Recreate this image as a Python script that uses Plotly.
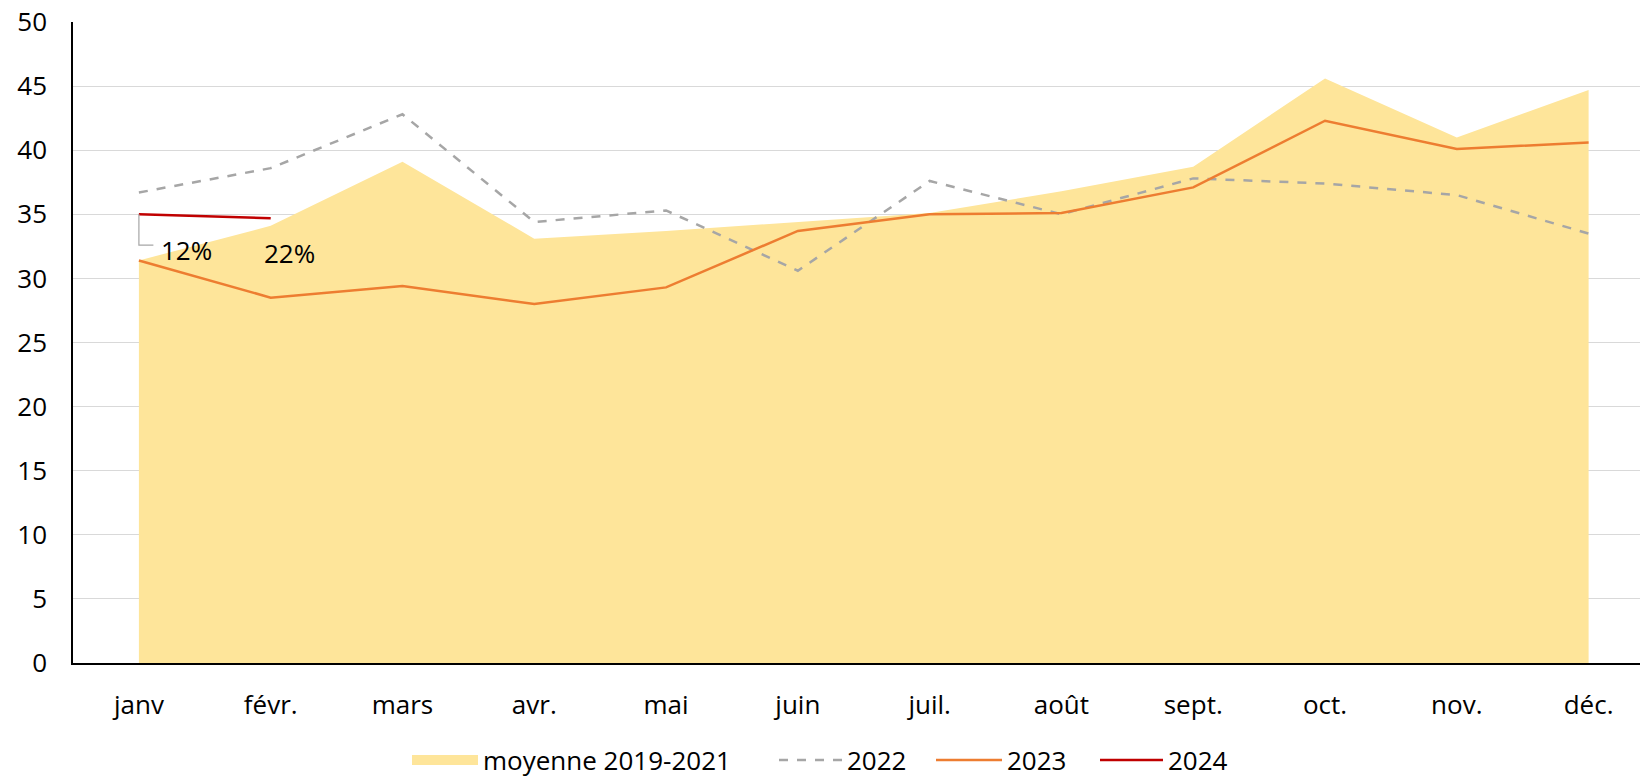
import plotly.graph_objects as go

months = ["janv", "févr.", "mars", "avr.", "mai", "juin", "juil.", "août", "sept.", "oct.", "nov.", "déc."]
moyenne_2019_2021 = [31.4, 34.1, 39.1, 33.1, 33.7, 34.4, 35.1, 36.8, 38.7, 45.6, 41.0, 44.7]
y2022 = [36.7, 38.6, 42.8, 34.4, 35.3, 30.6, 37.6, 35.0, 37.8, 37.4, 36.5, 33.5]
y2023 = [31.4, 28.5, 29.4, 28.0, 29.3, 33.7, 35.0, 35.1, 37.1, 42.3, 40.1, 40.6]
y2024 = [35.0, 34.7]
labels_2024 = ["12%", "22%"]
y_ticks = [0, 5, 10, 15, 20, 25, 30, 35, 40, 45, 50]

FONT = "Open Sans"
FS = 26
W, H = 1643, 780
xi = list(range(len(months)))

fig = go.Figure()
fig.add_trace(go.Scatter(x=xi, y=moyenne_2019_2021, mode="lines", fill="tozeroy",
                         fillcolor="#fee59a", line=dict(width=0, color="#fee59a"),
                         name="moyenne 2019-2021", showlegend=False, hoverinfo="skip"))
# legend swatch for the area
fig.add_trace(go.Scatter(x=[None], y=[None], mode="lines",
                         line=dict(color="#fee59a", width=17),
                         name="moyenne 2019-2021", legend="legend"))
fig.add_trace(go.Scatter(x=xi, y=y2022, mode="lines",
                         line=dict(color="#a6a6a6", width=2.5, dash="dash"), name="2022",
                         legend="legend2"))
fig.add_trace(go.Scatter(x=xi, y=y2023, mode="lines",
                         line=dict(color="#ed7d31", width=2.5), name="2023", legend="legend3"))
fig.add_trace(go.Scatter(x=xi[:len(y2024)], y=y2024, mode="lines",
                         line=dict(color="#c00000", width=2.5), name="2024", legend="legend4"))

# data labels for 2024
fig.add_annotation(x=xi[0] + 0.36, y=y2024[0] - 2.8, text=labels_2024[0], showarrow=False,
                   xref="x", yref="y", font=dict(size=FS, color="#000000", family=FONT))
fig.add_annotation(x=xi[1] + 0.14, y=y2024[1] - 2.7, text=labels_2024[1], showarrow=False,
                   xref="x", yref="y", font=dict(size=FS, color="#000000", family=FONT))
# leader line for first label
fig.add_shape(type="path", xref="x", yref="y",
              path=f"M {xi[0]},{y2024[0]} L {xi[0]},{y2024[0]-2.4} L {xi[0]+0.11},{y2024[0]-2.4}",
              line=dict(color="#a6a6a6", width=1.2))


def leg(px, iw):
    return dict(orientation="h", xref="container", yref="container", x=px / W, xanchor="left",
                y=20 / H, yanchor="middle", font=dict(size=FS, family=FONT, color="#000000"),
                itemwidth=iw, bgcolor="rgba(0,0,0,0)")


fig.update_layout(
    width=W, height=H,
    margin=dict(l=73, r=3, t=22, b=117),
    paper_bgcolor="white", plot_bgcolor="white",
    font=dict(family=FONT, size=FS, color="#000000"),
    showlegend=True,
    legend=leg(407, 66),
    legend2=leg(774, 63),
    legend3=leg(931, 66),
    legend4=leg(1095, 63),
    xaxis=dict(tickmode="array", tickvals=xi, ticktext=months, range=[-0.5, 11.39],
               showgrid=False, showline=True, linecolor="#000000", linewidth=1.5,
               ticks="", zeroline=False, ticklabelstandoff=18, tickfont=dict(size=FS),
               automargin=False),
    yaxis=dict(range=[0, 50], tickvals=y_ticks, showgrid=True, gridcolor="#d9d9d9",
               gridwidth=1, showline=True, linecolor="#000000", linewidth=1.5,
               ticks="", zeroline=False, ticklabelstandoff=19, tickfont=dict(size=FS),
               automargin=False),
)

fig.write_html("out.html", config={"displayModeBar": False},
               post_script="document.body.style.margin='0';")
